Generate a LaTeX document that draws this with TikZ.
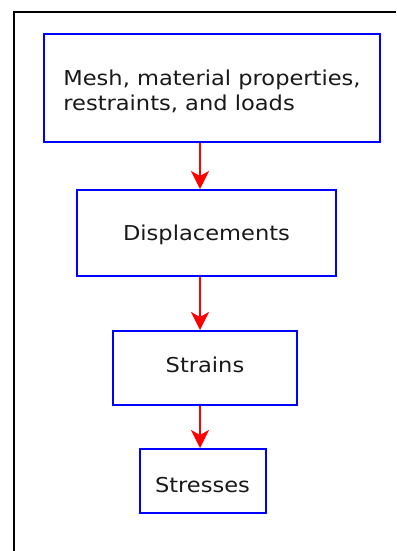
\documentclass[tikz,border=0pt]{standalone}
\usepackage{fontspec}
\setmainfont[FakeStretch=1.1]{DejaVu Sans}
\usetikzlibrary{arrows.meta}

\begin{document}
\begin{tikzpicture}[
    x={(1pt,0pt)},
    y={(0pt,-1pt)},
    line cap=butt,
    line join=miter,
    frame/.style={line width=2pt,draw=black},
    box/.style={draw=blue,line width=2pt,inner sep=0pt,
        font=\fontsize{20.5}{25}\selectfont,text=black!90},
    textpos/.style={text height=#1,text depth=0pt},
    flow/.style={draw=red,line width=2pt,
        -{Stealth[length=18pt,width=18pt,inset=5pt]}}
]

% =========================================================
% Размеры рисунка
% =========================================================

\def\W{396}   % ширина
\def\Hp{551}  % высота

\useasboundingbox (0,0) rectangle (\W,\Hp);

% =========================================================
% Рамка (обрезана справа и снизу)
% =========================================================

\draw[frame] (13.5,\Hp) -- (13.5,12.5) -- (\W,12.5);

% =========================================================
% Блоки схемы
% =========================================================

\node[box,minimum width=336,minimum height=108,align=left,textpos=45.5pt]
    (input) at (212,88) {Mesh, material properties,\\restraints, and loads};
\node[box,minimum width=259,minimum height=86,textpos=15pt]
    (disp) at (206.5,233) {Displacements};
\node[box,minimum width=184,minimum height=74,textpos=9.6pt]
    (strain) at (205,368) {Strains};
\node[box,minimum width=126,minimum height=64,textpos=22.4pt]
    (stress) at (202.5,481) {Stresses};

% =========================================================
% Стрелки
% =========================================================

\coordinate (axis) at (200,0);

\draw[flow] (input.south -| axis) -- (disp.north -| axis);
\draw[flow] (disp.south -| axis) -- (strain.north -| axis);
\draw[flow] (strain.south -| axis) -- (stress.north -| axis);

\end{tikzpicture}
\end{document}
